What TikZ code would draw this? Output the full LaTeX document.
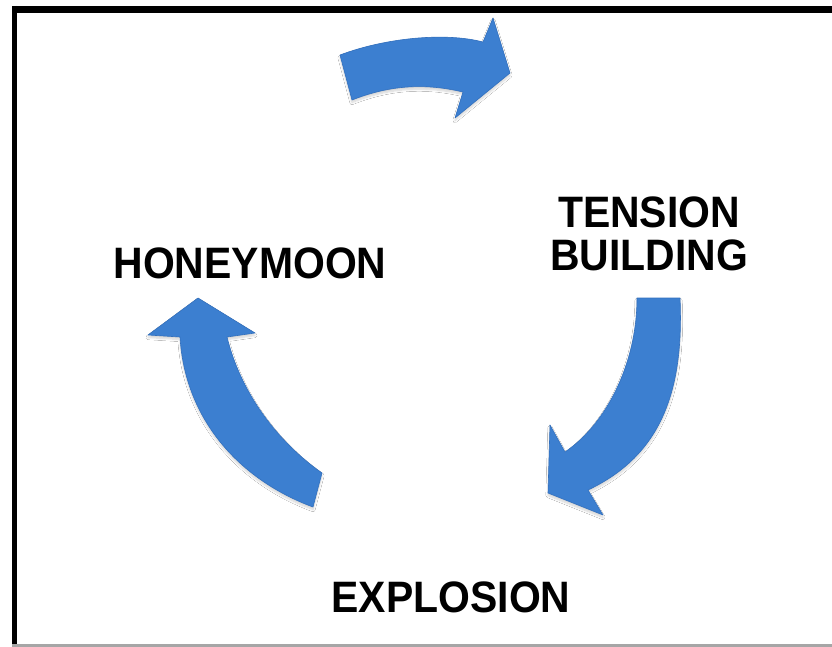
\documentclass[tikz,border=0pt]{standalone}
\usepackage{fontspec}
\setmainfont{Liberation Sans}
\newfontfamily\labelfont{Liberation Sans}[FakeStretch=0.93]
\usetikzlibrary{shadows.blur}
\definecolor{arrowblue}{RGB}{60,127,208}
\definecolor{arrowedge}{RGB}{50,112,190}
\tikzset{
  cyclearrow/.style={fill=arrowblue, draw=arrowedge, line width=0.6pt, line join=round,
    blur shadow={shadow xshift=0pt, shadow yshift=-2.5pt, shadow blur steps=8, shadow opacity=18}},
  stagelabel/.style={font=\labelfont\bfseries\fontsize{44}{46}\selectfont, align=center, inner sep=0pt, anchor=base},
}
\begin{document}
\begin{tikzpicture}[x=1pt,y=-1pt]
\useasboundingbox (0,0) rectangle (832,647);
\fill[white] (0,0) rectangle (832,647);
% frame
\draw[line width=7pt] (12,9.5) -- (832,9.5);
\draw[line width=5pt] (14.5,6) -- (14.5,644);
\draw[gray!70, line width=2.5pt] (12,645.5) -- (832,645.5);

% top arrow
\path[cyclearrow] (340,55) .. controls (385,38) and (445,32) .. (483,42)
  -- (493,18) -- (510,73) -- (455,118) -- (463,92)
  .. controls (425,83) and (390,85) .. (352,100) -- cycle;
% right arrow
\path[cyclearrow] (637,298) -- (680,298)
  .. controls (684,390) and (662,455) .. (588,490)
  -- (603,515) -- (548,493) -- (550,425) -- (565,452)
  .. controls (605,425) and (637,365) .. (637,298) -- cycle;
% left arrow
\path[cyclearrow] (198,298) -- (255,333) -- (227,337)
  .. controls (240,390) and (275,440) .. (322,473)
  -- (313,507)
  .. controls (240,480) and (185,420) .. (180,337)
  -- (148,335) -- cycle;

% labels
\node[stagelabel] (honeymoon) at (250,278) {HONEYMOON};
\node[stagelabel] (tension) at (649,227) {TENSION};
\node[stagelabel] (building) at (649,270) {BUILDING};
\node[stagelabel] (explosion) at (451,612) {EXPLOSION};
\end{tikzpicture}
\end{document}
